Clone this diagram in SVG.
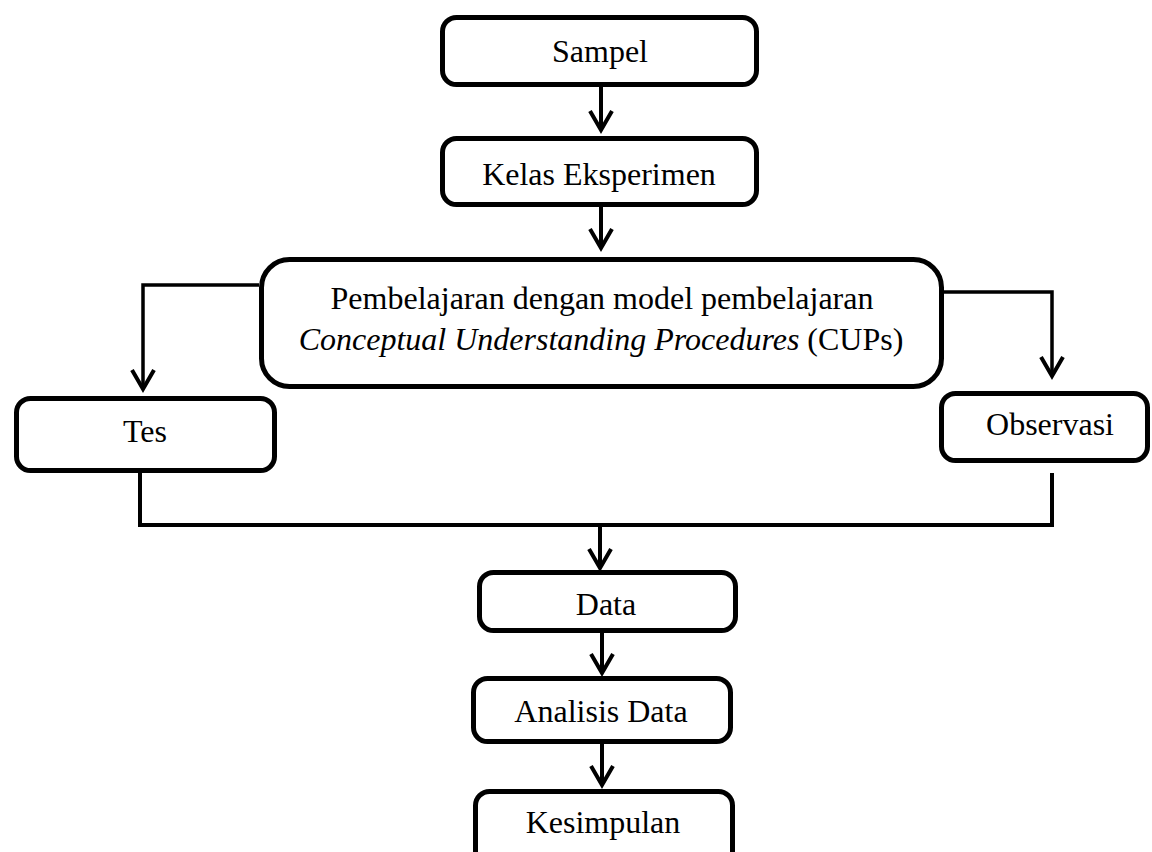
<svg xmlns="http://www.w3.org/2000/svg" width="1152" height="852" viewBox="0 0 1152 852">
<style>
.box{fill:#fff;stroke:#000;stroke-width:5}
.t{font-family:"Liberation Serif","Times New Roman",serif;font-size:32px;fill:#000;text-anchor:middle}
.c{fill:none;stroke:#000;stroke-width:4}
.c3{fill:none;stroke:#000;stroke-width:3.5}
</style>
<defs>
<marker id="ah" markerUnits="userSpaceOnUse" viewBox="-24 -14 28 28" markerWidth="28" markerHeight="28" refX="0" refY="0" orient="auto">
<path d="M -19 -11 L 0 0 L -19 11" fill="none" stroke="#000" stroke-width="4" stroke-linejoin="miter"/>
</marker>
</defs>
<rect width="1152" height="852" fill="#fff"/>
<g id="connectors">
<line class="c" x1="601" y1="87" x2="601" y2="130" marker-end="url(#ah)"/>
<line class="c" x1="601" y1="207" x2="601" y2="248" marker-end="url(#ah)"/>
<polyline class="c3" points="259,285 143,285 143,389" marker-end="url(#ah)"/>
<polyline class="c3" points="944,292 1052,292 1052,376" marker-end="url(#ah)"/>
<polyline class="c" points="140,473 140,525 1052,525 1052,473"/>
<line class="c" x1="600" y1="525" x2="600" y2="568" marker-end="url(#ah)"/>
<line class="c" x1="602" y1="633" x2="602" y2="673" marker-end="url(#ah)"/>
<line class="c" x1="602" y1="744" x2="602" y2="785" marker-end="url(#ah)"/>
</g>
<g id="sampel">
<rect class="box" x="442.5" y="17.5" width="314" height="67" rx="14"/>
<text class="t" x="600" y="62">Sampel</text>
</g>
<g id="kelas">
<rect class="box" x="442.5" y="138.5" width="314" height="66" rx="14"/>
<text class="t" x="599" y="185">Kelas Eksperimen</text>
</g>
<g id="pembelajaran">
<rect class="box" x="261.5" y="259.5" width="680" height="127" rx="28"/>
<text class="t" x="602" y="309">Pembelajaran dengan model pembelajaran</text>
<text class="t" x="601" y="350"><tspan font-style="italic">Conceptual Understanding Procedures</tspan> (CUPs)</text>
</g>
<g id="tes">
<rect class="box" x="16.5" y="398.5" width="258" height="72" rx="14"/>
<text class="t" x="145" y="442">Tes</text>
</g>
<g id="observasi">
<rect class="box" x="941.5" y="393.5" width="206" height="67" rx="14"/>
<text class="t" x="1050" y="435">Observasi</text>
</g>
<g id="data">
<rect class="box" x="479.5" y="572.5" width="256" height="58" rx="14"/>
<text class="t" x="606" y="615">Data</text>
</g>
<g id="analisis">
<rect class="box" x="473.5" y="678.5" width="257" height="63" rx="14"/>
<text class="t" x="601" y="722">Analisis Data</text>
</g>
<g id="kesimpulan">
<rect class="box" x="475.5" y="791.5" width="257" height="80" rx="14"/>
<text class="t" x="603" y="833">Kesimpulan</text>
</g>
</svg>
